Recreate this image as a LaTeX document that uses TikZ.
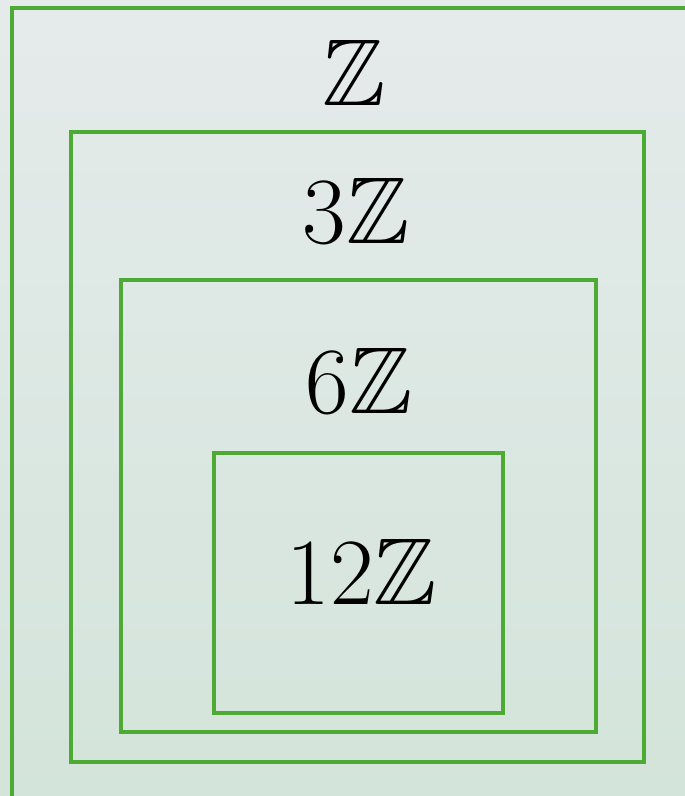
\documentclass[tikz,border=0pt]{standalone}
\usepackage{fix-cm}
\usepackage{amssymb}
\definecolor{setgreen}{HTML}{4DAA34}
\definecolor{bgtop}{HTML}{E5EBEB}
\definecolor{bgmid}{HTML}{E3EBE6}
\definecolor{bgbot}{HTML}{D3E4DA}
\tikzset{
    setbox/.style={draw=setgreen, line width=2.3pt},
    setlabel/.style={font=\fontsize{54}{62}\selectfont, inner sep=0pt}
}
\begin{document}
\begin{tikzpicture}[x=0.02cm, y=-0.02cm]

    % --- background ---
    \useasboundingbox (0,0) rectangle (685,796);
    \shade[top color=bgtop, middle color=bgmid, bottom color=bgbot] (0,0) rectangle (685,796);
    \clip (0,0) rectangle (685,796);

    % --- nested sets ---
    \draw[setbox] (12,8) rectangle (700,810);
    \draw[setbox] (71,132) rectangle (644,762);
    \draw[setbox] (121,280) rectangle (596,732);
    \draw[setbox] (214,453) rectangle (503,713);

    % labels
    \node[setlabel] (z) at (354,73) {$\mathbb{Z}$};
    \node[setlabel] (z3) at (356,211) {$3\mathbb{Z}$};
    \node[setlabel] (z6) at (359,381) {$6\mathbb{Z}$};
    \node[setlabel] (z12) at (362,572) {$12\mathbb{Z}$};
\end{tikzpicture}
\end{document}
